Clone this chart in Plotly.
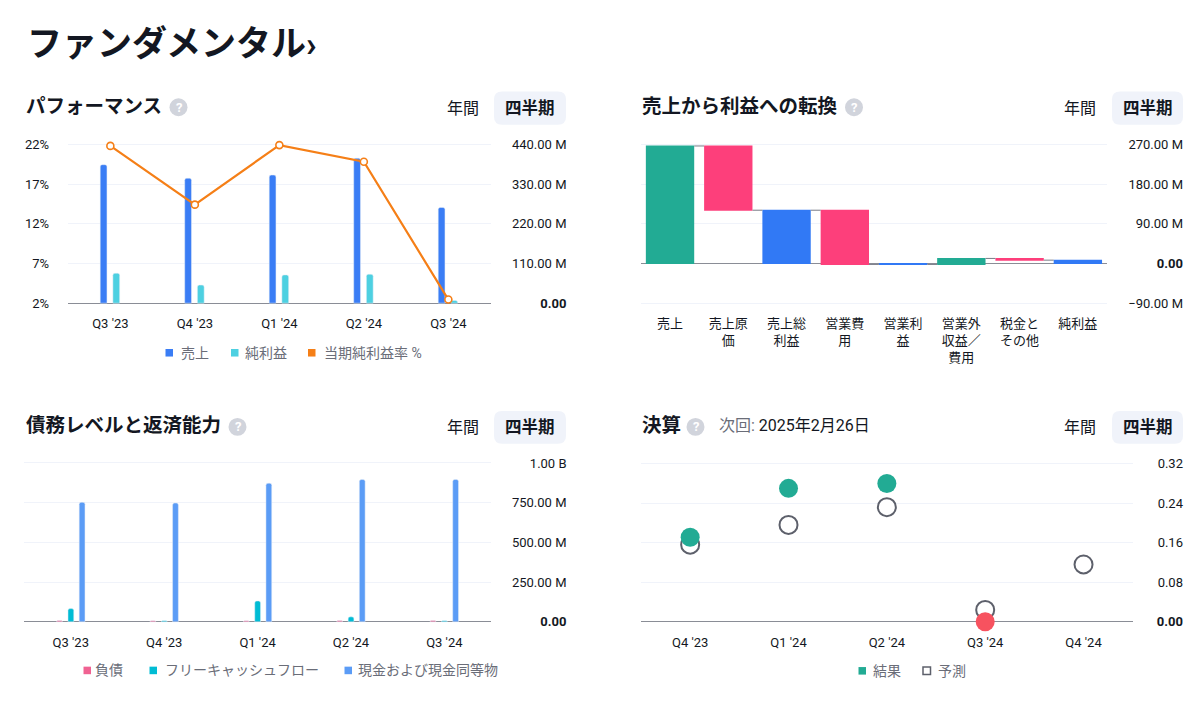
import plotly.graph_objects as go

W, H = 1200, 701
PAD_X, PAD_Y = 8, 5  # page margin round the plot div (measured offset)
FONT = "Roboto, 'Noto Sans CJK JP', sans-serif"
INK = "#131722"
GREY_TXT = "#6A6D78"
GRID = "#F0F3FA"
BASE = "#8A8D96"

# パフォーマンス (M / %)
perf_quarters = ["Q3 '23", "Q4 '23", "Q1 '24", "Q2 '24", "Q3 '24"]
perf_revenue = [383.5, 346.0, 354.8, 401.5, 265.0]
perf_net_income = [82.8, 50.0, 78.1, 80.0, 7.3]
perf_margin = [21.8, 14.4, 21.9, 19.8, 2.45]
perf_ticks_pct = [2, 7, 12, 17, 22]
perf_ticks_m = [0, 110, 220, 330, 440]
perf_names = ["売上", "純利益", "当期純利益率 %"]

# 売上から利益への転換 (M)
conv_items = ["売上", "売上原価", "売上総利益", "営業費用", "営業利益",
              "営業外収益／費用", "税金とその他", "純利益"]
conv_values = [266.2, -145.6, 0, -122.9, 0, 13.6, -3.9, 0]
conv_measure = ["relative", "relative", "total", "relative", "total",
                "relative", "relative", "total"]
conv_ticks = [-90, 0, 90, 180, 270]

# 債務レベルと返済能力 (M)
debt_quarters = ["Q3 '23", "Q4 '23", "Q1 '24", "Q2 '24", "Q3 '24"]
debt_debt = [8, 7, 7, 8, 8]
debt_fcf = [83, 6, 131, 31, 6]
debt_cash = [752, 747.5, 872.5, 895.6, 896]
debt_ticks = [0, 250, 500, 750, 1000]
debt_names = ["負債", "フリーキャッシュフロー", "現金および現金同等物"]

# 決算 (EPS)
eps_quarters = ["Q4 '23", "Q1 '24", "Q2 '24", "Q3 '24", "Q4 '24"]
eps_actual = [0.171, 0.270, 0.280, 0.0]
eps_estimate = [0.156, 0.196, 0.232, 0.024, 0.116]
eps_ticks = [0, 0.08, 0.16, 0.24, 0.32]
eps_names = ["結果", "予測"]
next_date = "2025年2月26日"

C_REV = "#3A7DF5"
C_NI = "#4DD0E1"
C_MARGIN = "#F57F17"
C_UP = "#22AB94"
C_DOWN = "#FD3F7B"
C_TOTAL = "#3179F5"
C_DEBT = "#F06292"
C_FCF = "#00BCD4"
C_CASH = "#5B9CF6"
C_BEAT = "#22AB94"
C_MISS = "#F7525F"
C_EST = "#5D606B"

FW, FH = W - 16, H - 16


def px(x):
    return (x - PAD_X) / FW


def py(y):
    return 1 - (y - PAD_Y) / FH


def fit(v0, p0, v1, p1, top, bottom):
    # value <-> pixel mapping through two known points
    k = (v1 - v0) / (p1 - p0)
    return dict(domain=[py(bottom), py(top)],
                range=[v0 + (bottom - p0) * k, v0 + (top - p0) * k])


def money(v):
    if v == 0:
        return "<b>0.00</b>"
    s = f"{abs(v) / 1000:.2f} B" if abs(v) >= 1000 else f"{abs(v):.2f} M"
    return ("−" if v < 0 else "") + s


def wrap(s, n=3):
    return "<br>".join(s[i:i + n] for i in range(0, len(s), n))


tick_font = dict(family=FONT, size=13, color=INK)

fig = go.Figure()

# --- パフォーマンス
fig.add_trace(go.Bar(x=perf_quarters, y=perf_revenue, name=perf_names[0],
                     width=0.08, offset=-0.12, marker_color=C_REV,
                     xaxis="x", yaxis="y"))
fig.add_trace(go.Bar(x=perf_quarters, y=perf_net_income, name=perf_names[1],
                     width=0.08, offset=0.03, marker_color=C_NI,
                     xaxis="x", yaxis="y"))
fig.add_trace(go.Scatter(x=perf_quarters, y=perf_margin, name=perf_names[2],
                         mode="lines+markers", cliponaxis=False,
                         line=dict(color=C_MARGIN, width=2.2),
                         marker=dict(size=7, color="white",
                                     line=dict(color=C_MARGIN, width=1.6)),
                         xaxis="x", yaxis="y2"))

# --- 売上から利益への転換
fig.add_trace(go.Waterfall(x=conv_items, y=conv_values, measure=conv_measure,
                           textinfo="none",
                           increasing=dict(marker=dict(color=C_UP)),
                           decreasing=dict(marker=dict(color=C_DOWN)),
                           totals=dict(marker=dict(color=C_TOTAL)),
                           connector=dict(mode="between",
                                          line=dict(color="#787B86", width=1)),
                           xaxis="x2", yaxis="y3"))

# --- 債務レベルと返済能力
for vals, off, col, nm in [(debt_debt, -0.152, C_DEBT, debt_names[0]),
                           (debt_fcf, -0.03, C_FCF, debt_names[1]),
                           (debt_cash, 0.09, C_CASH, debt_names[2])]:
    fig.add_trace(go.Bar(x=debt_quarters, y=vals, name=nm, width=0.062,
                         offset=off, marker_color=col, xaxis="x3", yaxis="y4"))

# --- 決算
fig.add_trace(go.Scatter(x=eps_quarters, y=eps_estimate, name=eps_names[1],
                         mode="markers", cliponaxis=False,
                         marker=dict(size=18, color="white",
                                     line=dict(color=C_EST, width=2)),
                         xaxis="x4", yaxis="y5"))
beat_cols = [C_BEAT if a >= e else C_MISS for a, e in zip(eps_actual, eps_estimate)]
fig.add_trace(go.Scatter(x=eps_quarters[:len(eps_actual)], y=eps_actual,
                         name=eps_names[0], mode="markers", cliponaxis=False,
                         marker=dict(size=19, color=beat_cols, line=dict(width=0)),
                         xaxis="x4", yaxis="y5"))

xcommon = dict(type="category", showgrid=False, zeroline=False, showline=False,
               ticks="", tickfont=tick_font, ticklabelstandoff=8, fixedrange=True)
ycommon = dict(showline=False, ticks="", tickfont=tick_font, fixedrange=True,
               gridcolor=GRID, gridwidth=1, zerolinecolor=BASE, zerolinewidth=1)

fig.update_layout(
    width=FW, height=FH, margin=dict(l=0, r=0, t=0, b=0),
    paper_bgcolor="white", plot_bgcolor="white",
    showlegend=False, barmode="overlay", barcornerradius=2,
    waterfallgap=0.17, hovermode=False,
    font=dict(family=FONT, color=INK),
    xaxis=dict(xcommon, domain=[px(68.1), px(490.6)], anchor="y",
               range=[-0.5, len(perf_quarters) - 0.5]),
    yaxis=dict(ycommon, **fit(0, 302.3, 440, 142.3, 132, 305), anchor="free",
               position=px(566.5), side="left", tickvals=perf_ticks_m,
               ticktext=[money(v) for v in perf_ticks_m], zeroline=True,
               ticklabelstandoff=0),
    yaxis2=dict(ycommon, **fit(2, 302.3, 22, 142.3, 132, 305), overlaying="y",
                anchor="x", side="left", tickvals=perf_ticks_pct,
                ticktext=[f"{v}%" for v in perf_ticks_pct], showgrid=False,
                zeroline=False, ticklabelstandoff=18),
    xaxis2=dict(xcommon, domain=[px(640.9), px(1107)], anchor="y3",
                range=[-0.5, len(conv_items) - 0.5], tickvals=conv_items,
                ticktext=[wrap(s) for s in conv_items]),
    yaxis3=dict(ycommon, **fit(0, 262.3, 270, 142.3, 132, 305), anchor="free",
                position=px(1183), side="left", tickvals=conv_ticks,
                ticktext=[money(v) for v in conv_ticks], zeroline=True,
                ticklabelstandoff=0),
    xaxis3=dict(xcommon, domain=[px(24.1), px(491)], anchor="y4",
                range=[-0.5, len(debt_quarters) - 0.5]),
    yaxis4=dict(ycommon, **fit(0, 623.3, 1000, 463.3, 455, 627), anchor="free",
                position=px(566.5), side="left", tickvals=debt_ticks,
                ticktext=[money(v) for v in debt_ticks], zeroline=True,
                ticklabelstandoff=0),
    xaxis4=dict(xcommon, domain=[px(641), px(1132.7)], anchor="y5",
                range=[-0.5, len(eps_quarters) - 0.5]),
    yaxis5=dict(ycommon, **fit(0, 623.3, 0.32, 464, 455, 627), anchor="free",
                position=px(1183), side="left", tickvals=eps_ticks,
                ticktext=["<b>0.00</b>" if v == 0 else f"{v:.2f}" for v in eps_ticks],
                zeroline=True, ticklabelstandoff=0),
)

shapes = []
annotations = []


def text(x, y, s, size, color=INK, anchor="left", bold=False):
    annotations.append(dict(x=px(x), y=py(y), xref="paper", yref="paper",
                            text=f"<b>{s}</b>" if bold else s, showarrow=False,
                            xanchor=anchor, yanchor="middle",
                            font=dict(family=FONT, size=size, color=color)))


def rrect(x0, y0, x1, y1, r, fill):
    p = (f"M{px(x0 + r)},{py(y0)} L{px(x1 - r)},{py(y0)} Q{px(x1)},{py(y0)} {px(x1)},{py(y0 + r)} "
         f"L{px(x1)},{py(y1 - r)} Q{px(x1)},{py(y1)} {px(x1 - r)},{py(y1)} "
         f"L{px(x0 + r)},{py(y1)} Q{px(x0)},{py(y1)} {px(x0)},{py(y1 - r)} "
         f"L{px(x0)},{py(y0 + r)} Q{px(x0)},{py(y0)} {px(x0 + r)},{py(y0)} Z")
    shapes.append(dict(type="path", path=p, xref="paper", yref="paper",
                       fillcolor=fill, line=dict(width=0), layer="below"))


def help_icon(cx, cy):
    shapes.append(dict(type="circle", xref="paper", yref="paper",
                       x0=px(cx - 9), x1=px(cx + 9), y0=py(cy + 9), y1=py(cy - 9),
                       fillcolor="#D1D4DC", line=dict(width=0)))
    text(cx, cy, "?", 13, color="white", anchor="center", bold=True)


def buttons(x_year, x_q, bx0, bx1, by0, by1):
    rrect(bx0, by0, bx1, by1, 8, "#F0F3FA")
    text(x_year, (by0 + by1) / 2, "年間", 16, anchor="center")
    text(x_q, (by0 + by1) / 2, "四半期", 16.5, anchor="center", bold=True)


def legend(y, items):
    for sq_x, tx_x, label, col, hollow in items:
        shapes.append(dict(type="rect", xref="paper", yref="paper",
                           x0=px(sq_x), x1=px(sq_x + 7.5),
                           y0=py(y + 3.8), y1=py(y - 3.8),
                           fillcolor="white" if hollow else col,
                           line=dict(color=col, width=1.5 if hollow else 0)))
        text(tx_x, y, label, 14, color=GREY_TXT)


# main title
text(25, 42, "ファンダメンタル›", 35, bold=True)

# panel headers
text(24, 104, "パフォーマンス", 19.5, bold=True)
help_icon(178.5, 105)
buttons(463.3, 530, 494, 566, 89, 122.5)

text(640, 104, "売上から利益への転換", 19.5, bold=True)
help_icon(854, 105)
buttons(1079.7, 1147.5, 1112, 1183, 89, 122.5)

text(24, 426, "債務レベルと返済能力", 19.5, bold=True)
help_icon(237.5, 427)
buttons(463.3, 530, 494, 566, 411, 444)

text(640, 426, "決算", 19.5, bold=True)
help_icon(695.5, 427)
text(716.5, 426, f"<span style='color:{GREY_TXT}'>次回:</span> {next_date}", 16)
buttons(1079.7, 1147.5, 1112, 1183, 411, 444)

# legends
legend(352.3, [(165.5, 179, perf_names[0], C_REV, False),
               (231, 243, perf_names[1], C_NI, False),
               (308, 321.5, perf_names[2], C_MARGIN, False)])
legend(672.3, [(83.5, 93, debt_names[0], C_DEBT, False),
               (149.5, 162.5, debt_names[1], C_FCF, False),
               (344.5, 356, debt_names[2], C_CASH, False)])
legend(672.7, [(858.5, 871, eps_names[0], C_BEAT, False),
               (923, 936, eps_names[1], C_EST, True)])

fig.update_layout(shapes=shapes, annotations=annotations)

fig.write_html("out.html")
